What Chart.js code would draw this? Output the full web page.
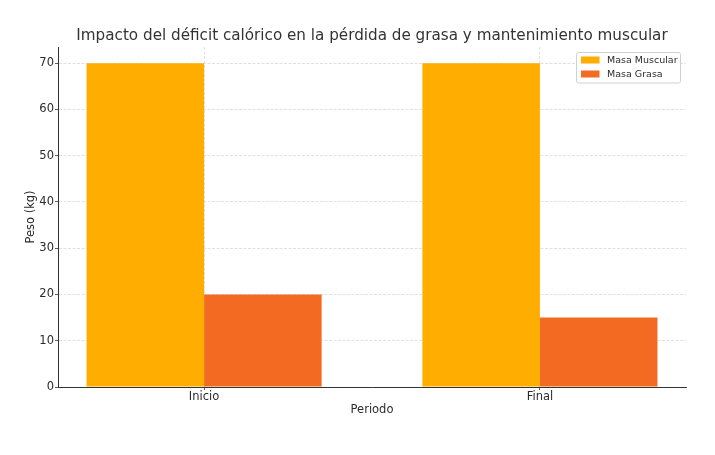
<!DOCTYPE html>
<html>
<head>
<meta charset="utf-8">
<script src="https://cdn.jsdelivr.net/npm/chart.js@4/dist/chart.umd.min.js"></script>
<style>
html,body{margin:0;padding:0;background:#fff;}
#wrap{width:715px;height:455px;}
</style>
</head>
<body>
<div id="wrap"><canvas id="c" width="715" height="455"></canvas></div>
<script>
const categories = ['Inicio', 'Final'];
const seriesNames = ['Masa Muscular', 'Masa Grasa'];
const masaMuscular = [70, 70];
const masaGrasa = [20, 15];
const yTicks = [0, 10, 20, 30, 40, 50, 60, 70];
const colors = ['#ffae00', '#f36b23'];
const chartTitle = 'Impacto del déficit calórico en la pérdida de grasa y mantenimiento muscular';

const FONT = "'DejaVu Sans', sans-serif";
const TXT = '#2b2b2b';

const titlePlugin = {
  id: 'centerTitle',
  afterDraw(chart) {
    const ctx = chart.ctx;
    const a = chart.chartArea;
    ctx.save();
    ctx.font = '15.2px ' + FONT;
    ctx.fillStyle = '#333333';
    ctx.textAlign = 'center';
    ctx.textBaseline = 'middle';
    ctx.fillText(chartTitle, (a.left + a.right) / 2, 36);
    ctx.restore();
  }
};

const legendPlugin = {
  id: 'boxLegend',
  afterDraw(chart) {
    const ctx = chart.ctx;
    ctx.save();
    const x = 576.5, y = 52.5, w = 104, h = 30.5;
    ctx.fillStyle = 'rgba(255,255,255,0.85)';
    ctx.strokeStyle = '#d0d0d0';
    ctx.lineWidth = 1;
    ctx.beginPath();
    if (ctx.roundRect) ctx.roundRect(x, y, w, h, 2); else ctx.rect(x, y, w, h);
    ctx.fill();
    ctx.stroke();
    ctx.font = '9.5px ' + FONT;
    ctx.textBaseline = 'middle';
    ctx.textAlign = 'left';
    chart.data.datasets.forEach((ds, i) => {
      const cy = 60 + i * 14;
      ctx.fillStyle = ds.backgroundColor;
      ctx.fillRect(581, cy - 3.5, 18.5, 7);
      ctx.fillStyle = TXT;
      ctx.fillText(ds.label, 607, cy + 0.5);
    });
    ctx.restore();
  }
};

const data = {
  datasets: [
    { label: seriesNames[0], data: categories.map((c, i) => ({ x: i, y: masaMuscular[i] })), backgroundColor: colors[0], borderWidth: 0 },
    { label: seriesNames[1], data: categories.map((c, i) => ({ x: i, y: masaGrasa[i] })), backgroundColor: colors[1], borderWidth: 0 }
  ]
};

new Chart(document.getElementById('c'), {
  type: 'bar',
  data: data,
  options: {
    responsive: false,
    animation: false,
    devicePixelRatio: 1,
    categoryPercentage: 0.7,
    barPercentage: 1.0,
    layout: { padding: { left: 0, right: 29, top: 47, bottom: 0 } },
    plugins: {
      legend: { display: false },
      tooltip: { enabled: false },
      title: { display: false }
    },
    scales: {
      x: {
        type: 'linear',
        offset: false,
        min: -0.435,
        max: 1.435,
        afterBuildTicks(scale) { scale.ticks = categories.map((c, i) => ({ value: i })); },
        afterFit(scale) { scale.height = 68; },
        ticks: {
          color: TXT,
          font: { family: FONT, size: 11.5 },
          padding: 0,
          maxRotation: 0,
          callback: (v) => categories[v] !== undefined ? categories[v] : ''
        },
        grid: {
          offset: false,
          color: '#d9d9d9',
          lineWidth: 0.8,
          tickLength: 3,
          tickColor: '#333333',
          drawTicks: true
        },
        border: { display: true, color: '#333333', width: 1, dash: [3, 1.5] },
        title: {
          display: true,
          text: 'Periodo',
          color: TXT,
          font: { family: FONT, size: 11.5 },
          padding: { top: 0, bottom: 38 }
        }
      },
      y: {
        min: 0,
        max: 73.5,
        afterBuildTicks(scale) { scale.ticks = yTicks.map(v => ({ value: v })); },
        afterFit(scale) { scale.width = 58; },
        ticks: {
          color: TXT,
          font: { family: FONT, size: 11.5 },
          padding: 1
        },
        grid: {
          color: '#d9d9d9',
          lineWidth: 0.8,
          tickLength: 3,
          tickColor: '#333333'
        },
        border: { display: true, color: '#333333', width: 1, dash: [3, 1.5] },
        title: {
          display: true,
          text: 'Peso (kg)',
          color: TXT,
          font: { family: FONT, size: 11.5 },
          padding: { top: 24, bottom: 0 }
        }
      }
    }
  },
  plugins: [titlePlugin, legendPlugin]
});
</script>
</body>
</html>
